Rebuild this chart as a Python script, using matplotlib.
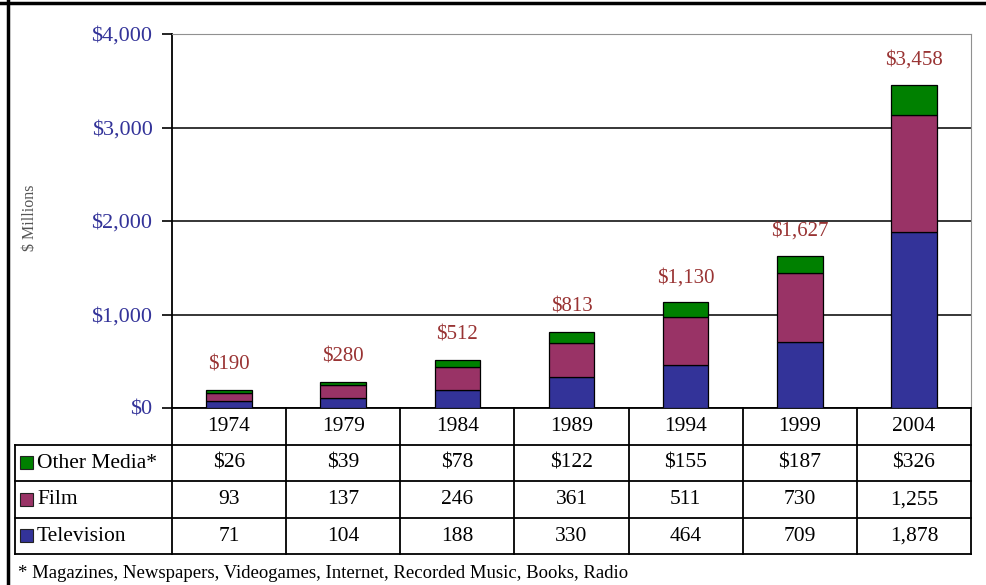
import matplotlib.pyplot as plt
from matplotlib.lines import Line2D
from matplotlib.patches import Rectangle
from matplotlib.ticker import FuncFormatter
import numpy as np

years = ['1974', '1979', '1984', '1989', '1994', '1999', '2004']
television = [71, 104, 188, 330, 464, 709, 1878]
film = [93, 137, 246, 361, 511, 730, 1255]
other_media = [26, 39, 78, 122, 155, 187, 326]
totals = [190, 280, 512, 813, 1130, 1627, 3458]

row_names = ['Other Media*', 'Film', 'Television']
row_values = [other_media, film, television]
row_colors = ['#008000', '#993366', '#333399']

footnote = '* Magazines, Newspapers, Videogames, Internet, Recorded Music, Books, Radio'

plt.rcParams['font.family'] = ['Liberation Serif', 'DejaVu Serif']

W, H = 987, 585
fig = plt.figure(figsize=(W / 100, H / 100), dpi=100)
fig.patch.set_facecolor('white')

# pixel layout of the reference
px_left, px_right, px_top, px_zero = 172, 971, 34, 408
tab_left, tab_bottom = 15, 554

ax = fig.add_axes([px_left / W, 1 - px_zero / H,
                   (px_right - px_left) / W, (px_zero - px_top) / H])
x = np.arange(len(years))
bw = 0.40
ax.bar(x, television, bw, color=row_colors[2], edgecolor='black', linewidth=0.9, zorder=3)
ax.bar(x, film, bw, bottom=television, color=row_colors[1], edgecolor='black',
       linewidth=0.9, zorder=3)
base2 = np.array(television) + np.array(film)
ax.bar(x, other_media, bw, bottom=base2, color=row_colors[0], edgecolor='black',
       linewidth=0.9, zorder=3)

for i, t in enumerate(totals):
    ax.annotate('${:,}'.format(t), (x[i], t), xytext=(0, 11), textcoords='offset points',
                ha='center', va='bottom', fontsize=15, color='#993333')

ax.set_xlim(-0.5, len(years) - 0.5)
ax.set_ylim(0, 4000)
ax.set_yticks([0, 1000, 2000, 3000, 4000])
ax.yaxis.set_major_formatter(FuncFormatter(lambda v, p: '${:,.0f}'.format(v)))
ax.tick_params(axis='y', length=7, width=1.2, pad=7, labelsize=16, labelcolor='#333399')
ax.set_xticks([])
ax.grid(axis='y', color='black', linewidth=1.1, zorder=1)
ax.spines['left'].set_linewidth(1.3)
ax.spines['bottom'].set_linewidth(1.3)
ax.spines['top'].set_color('#909090')
ax.spines['right'].set_color('#909090')
ax.set_ylabel('$ Millions', fontsize=11.5, color='#555555')
ax.yaxis.set_label_coords((38 - px_left) / (px_right - px_left), 0.51)

# data table underneath, sharing the category columns
upx = (px_right - px_left) / len(years)
tx0 = -0.5 - (px_left - tab_left) / upx
tx1 = len(years) - 0.5 + 1 / upx
tab = fig.add_axes([tab_left / W, 1 - tab_bottom / H,
                    (px_right + 1 - tab_left) / W, (tab_bottom - px_zero) / H])
tab.set_xlim(tx0, tx1)
tab.set_ylim(4, 0)
tab.axis('off')

lw = 1.3
for k in range(len(years) + 1):
    tab.plot([k - 0.5, k - 0.5], [0, 4], color='black', lw=lw, clip_on=False)
tab.plot([tx0, tx0], [1, 4], color='black', lw=lw, clip_on=False)
for r in range(1, 5):
    tab.plot([tx0, len(years) - 0.5], [r, r], color='black', lw=lw, clip_on=False)

for i, yr in enumerate(years):
    tab.text(i, 0.5, yr, ha='center', va='center', fontsize=15.5)

sq = 13 / upx
for r, (name, vals, col) in enumerate(zip(row_names, row_values, row_colors)):
    yc = r + 1.5
    tab.add_patch(Rectangle((tx0 + 5 / upx, yc - 0.18), sq, 0.36, facecolor=col,
                            edgecolor='#222222', lw=0.8, clip_on=False))
    tab.text(tx0 + 22 / upx, yc + 0.02, name, ha='left', va='center', fontsize=15.5)
    for i, v in enumerate(vals):
        s = '${:,}'.format(v) if r == 0 else '{:,}'.format(v)
        tab.text(i, yc + 0.02, s, ha='center', va='center', fontsize=15.5)

fig.text(18 / W, 1 - 574 / H, footnote, ha='left', va='center', fontsize=13.5)

# outer frame of the original slide
fig.add_artist(Line2D([0, 1], [1 - 2.5 / H, 1 - 2.5 / H], color='black', lw=2.5))
fig.add_artist(Line2D([8.5 / W, 8.5 / W], [0, 1], color='black', lw=2.5))

fig.savefig('out.png', dpi=100)
